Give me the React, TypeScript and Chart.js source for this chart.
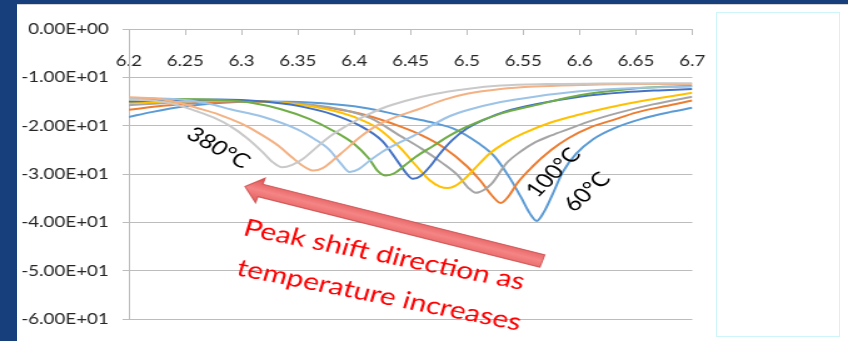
import React, { useEffect, useRef } from "react";
import { Chart, registerables } from "chart.js";

Chart.register(...registerables);

// Reflection spectra (dB) vs wavelength for each temperature step
const temps = ["60°C", "100°C", "140°C", "180°C", "220°C", "260°C", "300°C", "340°C", "380°C"];
const colors = ["#5B9BD5", "#ED7D31", "#A5A5A5", "#FFC000", "#4472C4", "#70AD47", "#9DC3E6", "#F4B183", "#C9C9C9"];

const s60: [number, number][] = [[6.2, -18.2], [6.22, -17.2], [6.25, -16.0], [6.28, -15.3], [6.32, -15.0], [6.36, -15.2], [6.4, -16.0], [6.43, -17.3], [6.45, -18.4], [6.47, -19.4], [6.49, -20.8], [6.51, -23.6], [6.525, -26.5], [6.538, -30.8], [6.548, -34.8], [6.556, -38.2], [6.562, -39.7], [6.568, -38.0], [6.576, -34.2], [6.585, -29.6], [6.597, -25.8], [6.612, -22.8], [6.63, -20.6], [6.655, -18.6], [6.68, -17.2], [6.7, -16.3]];
const s100: [number, number][] = [[6.2, -16.7], [6.23, -15.9], [6.26, -15.3], [6.3, -15.0], [6.34, -15.3], [6.38, -16.4], [6.41, -17.8], [6.44, -20.1], [6.46, -22.0], [6.48, -24.6], [6.5, -28.4], [6.512, -31.4], [6.522, -34.4], [6.53, -36.0], [6.537, -34.6], [6.545, -31.8], [6.558, -28.5], [6.575, -25.0], [6.59, -22.6], [6.61, -20.3], [6.63, -18.8], [6.65, -17.3], [6.675, -16.0], [6.7, -14.8]];
const s140: [number, number][] = [[6.2, -15.8], [6.24, -15.2], [6.28, -14.9], [6.32, -15.0], [6.36, -15.6], [6.39, -16.7], [6.415, -18.5], [6.44, -22.0], [6.46, -24.8], [6.478, -27.7], [6.492, -30.3], [6.501, -32.8], [6.508, -33.9], [6.515, -33.3], [6.522, -32.0], [6.535, -27.8], [6.548, -25.3], [6.56, -23.5], [6.575, -22.0], [6.59, -20.7], [6.61, -19.0], [6.635, -17.3], [6.665, -15.6], [6.7, -14.0]];
const s180: [number, number][] = [[6.2, -15.3], [6.24, -15.0], [6.28, -14.8], [6.32, -15.0], [6.35, -15.6], [6.38, -16.8], [6.4, -18.2], [6.42, -20.4], [6.44, -24.4], [6.455, -28.3], [6.467, -31.3], [6.476, -32.6], [6.483, -32.9], [6.49, -32.4], [6.498, -31.0], [6.506, -29.1], [6.52, -25.8], [6.535, -23.4], [6.55, -21.6], [6.575, -19.3], [6.6, -17.7], [6.625, -16.3], [6.66, -14.7], [6.7, -13.2]];
const s220: [number, number][] = [[6.2, -15.0], [6.24, -14.7], [6.28, -14.6], [6.32, -15.0], [6.35, -15.9], [6.38, -17.6], [6.405, -20.0], [6.425, -23.2], [6.438, -27.2], [6.446, -29.8], [6.452, -31.0], [6.459, -30.4], [6.467, -28.5], [6.476, -25.8], [6.487, -23.0], [6.5, -20.6], [6.515, -18.8], [6.535, -17.0], [6.56, -15.6], [6.6, -14.0], [6.64, -13.1], [6.67, -12.7], [6.7, -12.4]];
const s260: [number, number][] = [[6.2, -14.6], [6.24, -14.5], [6.28, -14.7], [6.31, -15.3], [6.335, -16.6], [6.36, -18.6], [6.38, -20.9], [6.4, -23.8], [6.413, -26.8], [6.421, -29.4], [6.428, -30.3], [6.436, -29.8], [6.445, -28.2], [6.455, -26.4], [6.47, -24.2], [6.485, -22.0], [6.5, -20.2], [6.53, -17.5], [6.56, -15.8], [6.6, -13.7], [6.64, -12.5], [6.67, -12.0], [6.7, -11.8]];
const s300: [number, number][] = [[6.2, -14.3], [6.24, -14.5], [6.27, -15.4], [6.29, -16.6], [6.318, -18.1], [6.35, -20.8], [6.365, -22.8], [6.378, -25.0], [6.388, -27.8], [6.396, -29.6], [6.404, -29.0], [6.414, -27.2], [6.425, -25.4], [6.44, -23.5], [6.455, -21.8], [6.47, -19.8], [6.485, -18.0], [6.5, -16.8], [6.53, -15.1], [6.56, -14.0], [6.6, -12.9], [6.65, -12.2], [6.7, -11.9]];
const s340: [number, number][] = [[6.2, -14.1], [6.22, -14.3], [6.24, -15.0], [6.26, -16.3], [6.28, -17.7], [6.3, -19.6], [6.318, -21.9], [6.333, -24.2], [6.345, -26.6], [6.355, -28.4], [6.364, -29.3], [6.372, -28.8], [6.38, -27.4], [6.392, -25.0], [6.405, -22.4], [6.42, -20.0], [6.436, -18.3], [6.457, -16.6], [6.48, -14.6], [6.5, -13.4], [6.53, -12.4], [6.56, -11.9], [6.6, -11.6], [6.65, -11.4], [6.7, -11.4]];
const s380: [number, number][] = [[6.2, -14.6], [6.22, -14.8], [6.24, -15.5], [6.26, -17.0], [6.275, -18.3], [6.29, -20.1], [6.305, -22.6], [6.318, -25.3], [6.328, -27.6], [6.336, -28.6], [6.345, -28.1], [6.355, -26.8], [6.366, -24.6], [6.378, -22.3], [6.392, -20.2], [6.407, -18.3], [6.425, -16.4], [6.445, -14.9], [6.47, -13.5], [6.5, -12.4], [6.53, -11.7], [6.57, -11.4], [6.62, -11.3], [6.7, -11.2]];

const series = [s60, s100, s140, s180, s220, s260, s300, s340, s380];

// axis ranges
const xMin = 6.2, xMax = 6.7, xStep = 0.05;
const yMin = -60, yMax = 0, yStep = 10;

// annotation anchors, in data units
const arrowTip = [6.303, -32.6];
const arrowTail = [6.567, -48.0];
const noteLines = [
  { text: "Peak shift direction as", at: [6.3004, -42.6] },
  { text: "temperature increases", at: [6.2944, -50.9] },
];
const tempNotes = [
  { text: "380°C", at: [6.2795, -24.6], angle: 35 },
  { text: "100°C", at: [6.5769, -29.7], angle: -51 },
  { text: "60°C", at: [6.6066, -33.7], angle: -48 },
];

// canvas is drawn narrow and stretched horizontally
const W = 678;
const H = 341;
const K = 848 / W;
const PLOT_LEFT = 103;
const PLOT_RIGHT = 553.5;
const FONT = "Lato";

function sci(v: number): string {
  if (v === 0) return "0.00E+00";
  const e = Math.floor(Math.log10(Math.abs(v)) + 1e-9);
  const m = v / Math.pow(10, e);
  return m.toFixed(2) + "E" + (e >= 0 ? "+" : "-") + String(Math.abs(e)).padStart(2, "0");
}

const notesPlugin = {
  id: "notes",
  afterDraw(chart: any) {
    const { ctx } = chart;
    const xs = chart.scales.x;
    const ys = chart.scales.y;
    const px = (v: number) => xs.getPixelForValue(v);
    const py = (v: number) => ys.getPixelForValue(v);

    // arrow
    const tx = px(arrowTip[0]), ty = py(arrowTip[1]);
    const sx = px(arrowTail[0]), sy = py(arrowTail[1]);
    const ang = Math.atan2(ty - sy, tx - sx);
    const len = Math.hypot(tx - sx, ty - sy);
    const hw = 6.5, headW = 13, headL = 13;
    ctx.save();
    ctx.translate(sx, sy);
    ctx.rotate(ang);
    const grad = ctx.createLinearGradient(0, -headW, 0, headW);
    grad.addColorStop(0, "#e35b5b");
    grad.addColorStop(0.5, "#f58585");
    grad.addColorStop(1, "#dd5050");
    ctx.beginPath();
    ctx.moveTo(0, -hw);
    ctx.lineTo(len - headL, -hw);
    ctx.lineTo(len - headL, -headW);
    ctx.lineTo(len, 0);
    ctx.lineTo(len - headL, headW);
    ctx.lineTo(len - headL, hw);
    ctx.lineTo(0, hw);
    ctx.closePath();
    ctx.fillStyle = grad;
    ctx.fill();
    ctx.strokeStyle = "rgba(200,70,70,0.8)";
    ctx.lineWidth = 1;
    ctx.stroke();
    ctx.restore();

    // red caption
    ctx.save();
    ctx.fillStyle = "#ff0000";
    ctx.font = `24px ${FONT}`;
    ctx.textAlign = "left";
    ctx.textBaseline = "alphabetic";
    for (const n of noteLines) {
      ctx.save();
      ctx.translate(px(n.at[0]), py(n.at[1]));
      ctx.rotate((13.8 * Math.PI) / 180);
      ctx.fillText(n.text, 0, 0);
      ctx.restore();
    }
    ctx.restore();

    // temperature labels
    ctx.save();
    ctx.fillStyle = "#000000";
    ctx.font = `20px ${FONT}`;
    ctx.textAlign = "center";
    ctx.textBaseline = "middle";
    for (const n of tempNotes) {
      ctx.save();
      ctx.translate(px(n.at[0]), py(n.at[1]));
      ctx.rotate((n.angle * Math.PI) / 180);
      ctx.fillText(n.text, 0, 0);
      ctx.restore();
    }
    ctx.restore();
  },
};

export default function App() {
  const ref = useRef<HTMLCanvasElement>(null);

  useEffect(() => {
    const canvas = ref.current;
    if (!canvas) return;
    const tickFont = { family: FONT, size: 15 };
    const chart = new Chart(canvas, {
      type: "line",
      data: {
        datasets: series.map((pts, i) => ({
          label: temps[i],
          data: pts.map(([x, y]) => ({ x, y })),
          borderColor: colors[i],
          backgroundColor: colors[i],
          borderWidth: 2,
          pointRadius: 0,
          cubicInterpolationMode: "monotone" as const,
          fill: false,
          order: series.length - 1 - i,
        })),
      },
      options: {
        responsive: false,
        animation: false,
        devicePixelRatio: 1,
        layout: { padding: { left: 0, top: 29, right: W - PLOT_RIGHT, bottom: 22 } },
        plugins: { legend: { display: false }, tooltip: { enabled: false } },
        scales: {
          x: {
            type: "linear",
            position: { y: 0 } as any,
            min: xMin,
            max: xMax,
            ticks: {
              stepSize: xStep,
              autoSkip: false,
              maxRotation: 0,
              padding: 18,
              color: "#262626",
              font: tickFont,
              callback: (v: any) => String(+Number(v).toFixed(2)),
            },
            grid: { drawOnChartArea: false, drawTicks: true, tickLength: 5, color: "#bcbcbc" },
            border: { color: "#bcbcbc" },
          },
          y: {
            type: "linear",
            position: "left",
            min: yMin,
            max: yMax,
            ticks: {
              stepSize: yStep,
              padding: 11,
              color: "#262626",
              font: tickFont,
              callback: (v: any) => sci(Number(v)),
            },
            grid: { color: "#bcbcbc", tickLength: 5 },
            border: { color: "#bcbcbc" },
            afterFit: (s: any) => {
              s.width = PLOT_LEFT;
            },
          },
        },
      },
      plugins: [notesPlugin],
    });
    return () => chart.destroy();
  }, []);

  return (
    <div style={{ position: "fixed", left: 0, top: 0, width: 848, height: 341, overflow: "hidden", background: "#163f7b" }}>
      <div style={{ position: "absolute", left: 17, top: 4, right: 0, bottom: 0, background: "#ffffff", borderTop: "1px solid #d4d4d4" }} />
      <div style={{ position: "absolute", left: 716, top: 12, width: 122, height: 323, border: "1px solid #cdf5fa" }} />
      <canvas
        ref={ref}
        width={W}
        height={H}
        style={{ position: "absolute", left: 0, top: 0, transform: `scaleX(${K})`, transformOrigin: "0 0" }}
      />
    </div>
  );
}
